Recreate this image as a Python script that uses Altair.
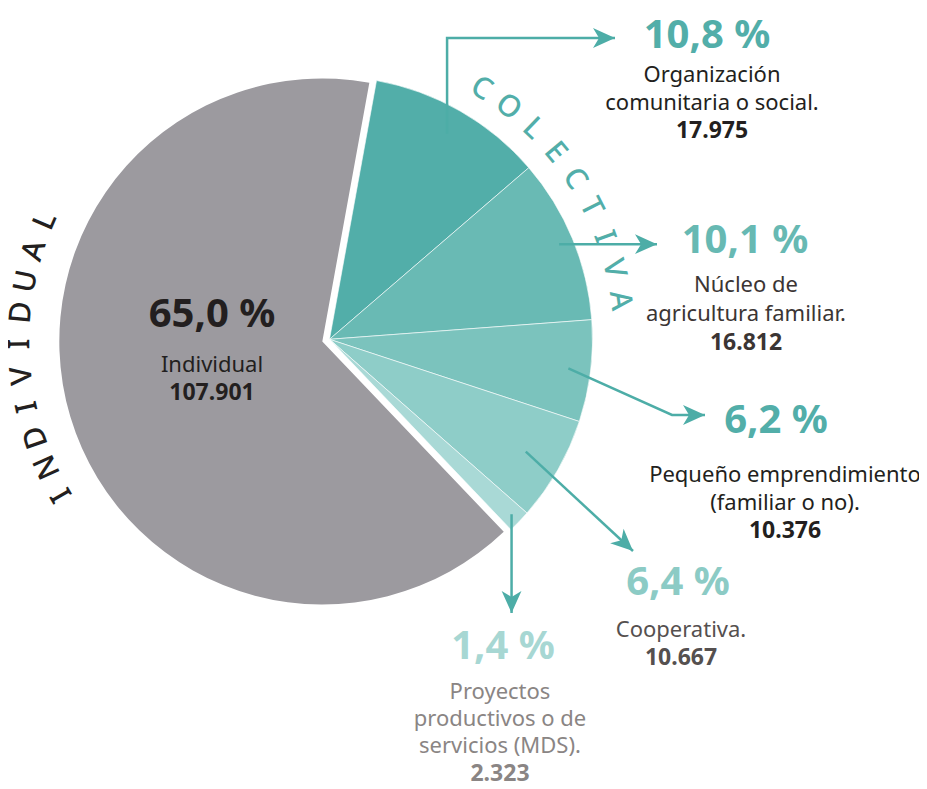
import math
import altair as alt
import pandas as pd

# ---------------- data ----------------
categories = [
    "Organización comunitaria o social.",
    "Núcleo de agricultura familiar.",
    "Pequeño emprendimiento (familiar o no).",
    "Cooperativa.",
    "Proyectos productivos o de servicios (MDS).",
    "Individual",
]
values = [17975, 16812, 10376, 10667, 2323, 107901]
label_lines = [
    ["Organización", "comunitaria o social."],
    ["Núcleo de", "agricultura familiar."],
    ["Pequeño emprendimiento", "(familiar o no)."],
    ["Cooperativa."],
    ["Proyectos", "productivos o de", "servicios (MDS)."],
    ["Individual"],
]
group_words = ["COLECTIVA", "INDIVIDUAL"]

# ---------------- style ----------------
slice_colors = ["#52aea9", "#69bab4", "#7bc3bd", "#8ecdc8", "#a9d9d6", "#9c9a9f"]
pct_colors = ["#52aea9", "#67b9b3", "#52aea9", "#8ccbc5", "#a7d7d3", "#231f20"]
name_colors = ["#231f20", "#3b3534", "#231f20", "#55504f", "#8a8584", "#231f20"]
arrow_color = "#4dada7"
FONT = "Noto Sans"

# ---------------- layout (page pixels) ----------------
W, H, M = 911, 773, 8
CX, CY = 329.5, 339.3          # centre of the collective slices
R = 263
START_DEG = 10.3
EXPLODE = 7.5
label_x = [712, 746, 785, 681, 500, 212]
pct_x = [707, 745, 776, 678, 503, 212]
pct_y = [48, 253, 433, 595, 659, 327]
line1_y = [82, 292, 482, 637, 699, 372]
line_gap = [28, 29, 28, 28, 27.2, 28]
PCT_SIZE, NAME_SIZE, NUM_SIZE = 40, 22, 23
arrow_r_frac = [0.90, 0.945, 0.915, 0.86, 0.96]
arrow_route = [
    [("sx", 38), (615, 38)],
    [(657, "sy")],
    [(672, 415), (705, 415)],
    [(633, 551)],
    [("sx", 613)],
]
word_start = [31.2, 239.5]
word_step = [6.4, 6.0]
word_radius = [293, 302]
word_colors = ["#52aea9", "#231f20"]
LETTER_SIZE = 30

# ---------------- derived ----------------
total = sum(values)
cum = [0]
for v in values:
    cum.append(cum[-1] + v)
off = math.radians(START_DEG)


def ang(frac_value):
    return START_DEG + 360.0 * frac_value / total


def polar(theta_deg, r, cx, cy):
    t = math.radians(theta_deg)
    return cx + r * math.sin(t), cy - r * math.cos(t)


mid_deg = [ang((cum[i] + cum[i + 1]) / 2) for i in range(len(values))]
gcx, gcy = polar(mid_deg[5], EXPLODE, CX, CY)

pie_df = pd.DataFrame({
    "cat": categories,
    "value": values,
    "start": cum[:-1],
    "end": cum[1:],
    "color": slice_colors,
})

theta_scale = alt.Scale(domain=[0, total], range=[off, off + 2 * math.pi])


def arc_layer(df, cx, cy, stroke_w):
    return alt.Chart(df).mark_arc(
        outerRadius=R, innerRadius=0, stroke="white", strokeWidth=stroke_w
    ).encode(
        theta=alt.Theta("start:Q", stack=None, scale=theta_scale),
        theta2="end:Q",
        color=alt.Color("color:N", scale=None, legend=None),
        x=alt.value(cx - M),
        y=alt.value(cy - M),
    )


colored = arc_layer(pie_df.iloc[:5], CX, CY, 0.6)
gray = arc_layer(pie_df.iloc[5:], gcx, gcy, 0)

xs = alt.Scale(domain=[M, M + W], nice=False, zero=False)
ys = alt.Scale(domain=[M, M + H], nice=False, zero=False, reverse=True)

# ---------------- texts ----------------
reg_rows, bold_rows = [], []


def fmt_pct(v):
    return f"{100 * v / total:.1f}".replace(".", ",") + " %"


def fmt_num(v):
    return f"{v:,}".replace(",", ".")


for i, v in enumerate(values):
    bold_rows.append(dict(x=pct_x[i], y=pct_y[i], text=fmt_pct(v), color=pct_colors[i],
                          size=PCT_SIZE, angle=0))
    for j, ln in enumerate(label_lines[i]):
        reg_rows.append(dict(x=label_x[i], y=line1_y[i] + j * line_gap[i], text=ln,
                             color=name_colors[i], size=NAME_SIZE, angle=0))
    bold_rows.append(dict(x=label_x[i], y=line1_y[i] + len(label_lines[i]) * line_gap[i],
                          text=fmt_num(v), color=name_colors[i], size=NUM_SIZE, angle=0))

letter_rows = []
centres = [(CX, CY), (gcx, gcy)]
for w, word in enumerate(group_words):
    for k, ch in enumerate(word):
        th = word_start[w] + k * word_step[w]
        px, py = polar(th, word_radius[w], *centres[w])
        letter_rows.append(dict(x=px, y=py, text=ch, color=word_colors[w],
                                size=LETTER_SIZE, angle=th % 360))


def text_layer(rows, weight, baseline):
    return alt.Chart(pd.DataFrame(rows)).mark_text(
        font=FONT, fontWeight=weight, baseline=baseline, align="center"
    ).encode(
        x=alt.X("x:Q", scale=xs, axis=None),
        y=alt.Y("y:Q", scale=ys, axis=None),
        text="text:N",
        color=alt.Color("color:N", scale=None, legend=None),
        size=alt.Size("size:Q", scale=None, legend=None),
        angle=alt.Angle("angle:Q", scale=None),
    )


# ---------------- arrows ----------------
line_rows, head_rows = [], []
for i in range(5):
    sx, sy = polar(mid_deg[i], arrow_r_frac[i] * R, CX, CY)
    pts = [(sx, sy)]
    for (a, b) in arrow_route[i]:
        px = sx if a == "sx" else a
        py = sy if b == "sy" else b
        pts.append((px, py))
    for k, (px, py) in enumerate(pts):
        line_rows.append(dict(arrow=i, order=k, x=px, y=py))
    (x0, y0), (x1, y1) = pts[-2], pts[-1]
    L = math.hypot(x1 - x0, y1 - y0)
    ux, uy = (x1 - x0) / L, (y1 - y0) / L
    head_rows.append(dict(x=x1 - 11 * ux, y=y1 - 11 * uy,
                          angle=math.degrees(math.atan2(ux, -uy)) % 360))

arrow_lines = alt.Chart(pd.DataFrame(line_rows)).mark_line(
    color=arrow_color, strokeWidth=2.5
).encode(
    x=alt.X("x:Q", scale=xs, axis=None),
    y=alt.Y("y:Q", scale=ys, axis=None),
    detail="arrow:N",
    order="order:Q",
)

arrow_heads = alt.Chart(pd.DataFrame(head_rows)).mark_point(
    shape="M0,-1L0.9,1L0,0.45L-0.9,1Z", filled=True, color=arrow_color,
    opacity=1, size=484, strokeWidth=0
).encode(
    x=alt.X("x:Q", scale=xs, axis=None),
    y=alt.Y("y:Q", scale=ys, axis=None),
    angle=alt.Angle("angle:Q", scale=None),
)

chart = alt.layer(
    gray,
    colored,
    arrow_lines,
    arrow_heads,
    text_layer(letter_rows, 500, "middle"),
    text_layer(reg_rows, "normal", "alphabetic"),
    text_layer(bold_rows, "bold", "alphabetic"),
).properties(
    width=W, height=H, padding=0,
    autosize=alt.AutoSizeParams(type="none"),
).configure_view(stroke=None)

chart.save("out.html", embed_options={"renderer": "svg", "actions": False})
